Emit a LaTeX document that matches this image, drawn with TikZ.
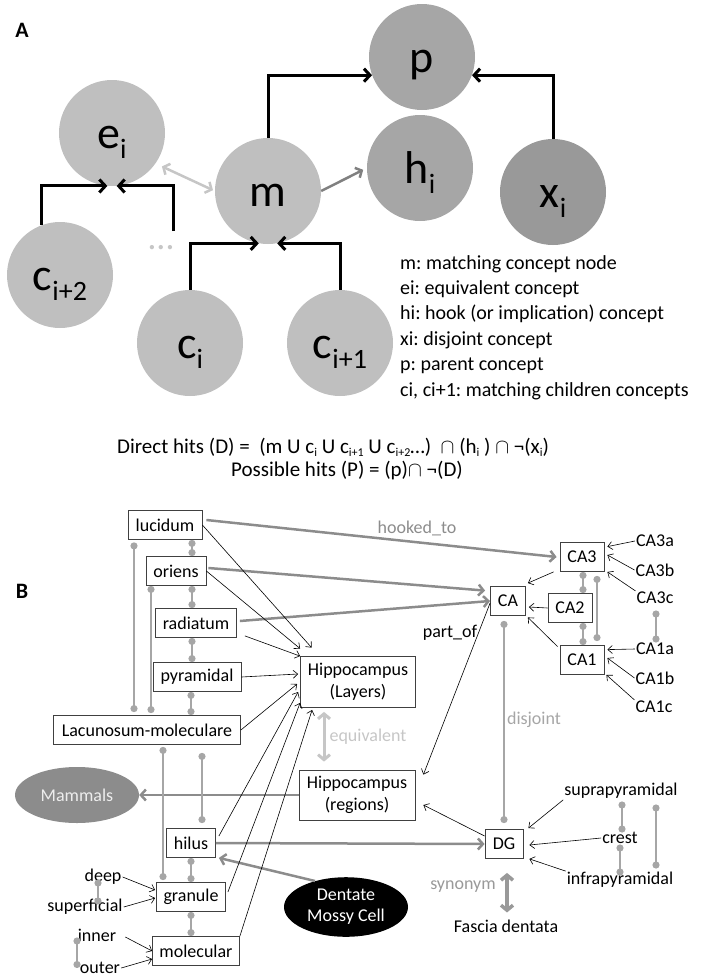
\documentclass[tikz,border=0pt]{standalone}
\usepackage{fontspec}
\setmainfont{Carlito}
\usetikzlibrary{shapes.geometric,arrows.meta}
\frenchspacing

\newcommand{\bigsub}[1]{\raisebox{-10pt}[0pt][0pt]{\fontsize{28}{28}\selectfont #1}}
\newcommand{\smallsub}[1]{\raisebox{-3pt}[0pt][0pt]{\fontsize{12}{12}\selectfont #1}}

\tikzset{
  concept/.style={circle, minimum size=106pt, inner sep=0pt, text height=30pt, text depth=0pt,
    font=\fontsize{46}{46}\selectfont},
  tree/.style={-{Straight Barb[length=6pt, width=13pt]}, line width=3pt},
  layer/.style={draw=black!75, line width=0.8pt, fill=white, minimum height=29pt, inner sep=0pt,
    align=center, font=\fontsize{18}{22}\selectfont},
  term/.style={inner sep=1pt, font=\fontsize{18}{22}\selectfont},
  relname/.style={inner sep=1pt, font=\fontsize{18}{22}\selectfont},
  isa/.style={-{Straight Barb[length=4.5pt, width=8pt]}, line width=0.6pt},
  hook/.style={-{Straight Barb[length=5pt, width=11pt]}, draw=gray!90, line width=2.5pt},
  link/.style={{Circle[length=7pt]}-{Circle[length=7pt]}, draw=gray!70, line width=2.2pt},
  both/.style={{Straight Barb[length=5pt, width=12pt]}-{Straight Barb[length=5pt, width=12pt]}},
}

\begin{document}
\begin{tikzpicture}[x=1pt, y=-1pt]
\useasboundingbox (0,0) rectangle (708,980);

% A: the concept graph
\node[font=\fontsize{22}{22}\selectfont\bfseries] (labA) at (22,30) {A};

\node[concept, fill=gray!70] (p) at (422,57) {p};
\node[concept, fill=gray!70] (h) at (420,168) {h\bigsub{i}};
\node[concept, fill=gray!80] (x) at (553,192) {x\bigsub{i}};
\node[concept, fill=gray!50] (m) at (268,191) {m};
\node[concept, fill=gray!50] (e) at (112,133) {e\bigsub{i}};
\node[concept, fill=gray!50] (c2) at (60,275) {c\bigsub{i+2}};
\node[concept, fill=gray!50] (c0) at (190,343) {c\bigsub{i}};
\node[concept, fill=gray!50] (c1) at (340,343) {c\bigsub{i+1}};
\node[text=gray!45, inner sep=0pt, anchor=base, font=\fontsize{36}{36}\selectfont] (dots) at (161,249) {…};
\coordinate (more) at (173,231);

\draw[tree] (m.north) |- (p.200);
\draw[tree] (x.north) |- (p.-20);
\draw[tree] (c2.110) |- (e.-95);
\draw[tree] (more) |- (e.-85);
\draw[tree] (c0.north) |- (m.-100);
\draw[tree] (c1.north) |- (m.-80);
\draw[both, draw=gray!45, line width=2.5pt, shorten <=7pt, shorten >=2pt] (e.-35) -- (m.west);
\draw[-{Straight Barb[length=5pt, width=11pt]}, draw=gray, line width=2.5pt, shorten >=4pt] (m.east) -- (h.west);

\node[anchor=base west, inner sep=0pt, align=left, font=\fontsize{20}{25.4}\selectfont] (legend) at (400,396)
  {m: matching concept node\\ei: equivalent concept\\hi: hook (or implication) concept\\xi: disjoint concept\\p: parent concept\\ci, ci+1: matching children concepts};

\node[anchor=base west, inner sep=0pt, font=\fontsize{21}{25}\selectfont] (direct) at (117,453)
  {Direct hits (D) =\ \ (m U c\smallsub{i} U c\smallsub{i+1} U c\smallsub{i+2}…)\ \ $\cap$ (h\smallsub{i} ) $\cap$ ¬(x\smallsub{i})};
\node[anchor=base west, inner sep=0pt, font=\fontsize{21}{25}\selectfont] (possible) at (231,476)
  {Possible hits (P) = (p)$\cap$ ¬(D)};

% B: the hippocampus example
\node[font=\fontsize{22}{22}\selectfont\bfseries] (labB) at (22,591) {B};

\node[layer, minimum width=74pt] (lucidum) at (165,525) {lucidum};
\node[layer, minimum width=60pt] (oriens) at (176,571) {oriens};
\node[layer, minimum width=81pt] (radiatum) at (196,623) {radiatum};
\node[layer, minimum width=88pt] (pyramidal) at (197,677) {pyramidal};
\node[layer, minimum width=187pt] (lacunosum) at (147,730) {Lacunosum-moleculare};
\node[layer, minimum width=49pt] (hilus) at (191,843) {hilus};
\node[layer, minimum width=69pt] (granule) at (191,897) {granule};
\node[layer, minimum width=87pt] (molecular) at (196,951) {molecular};
\node[layer, minimum width=115pt, minimum height=51pt] (hl) at (358,682) {Hippocampus\\(Layers)};
\node[layer, minimum width=116pt, minimum height=50pt] (hr) at (357,795) {Hippocampus\\(regions)};
\node[layer, minimum width=35pt] (ca) at (508,601) {CA};
\node[layer, minimum width=44pt] (ca3) at (582,557) {CA3};
\node[layer, minimum width=44pt] (ca2) at (570,608) {CA2};
\node[layer, minimum width=44pt] (ca1) at (582,660) {CA1};
\node[layer, minimum width=38pt] (dg) at (504,844) {DG};

\node[ellipse, fill=gray!90, text=white!93!black, minimum width=124pt, minimum height=56pt,
  font=\fontsize{18}{22}\selectfont] (mammals) at (77,795) {Mammals};
\node[ellipse, fill=black, text=white, minimum width=124pt, minimum height=56pt, align=center,
  font=\fontsize{18}{21}\selectfont] (mossy) at (346,907) {Dentate\\Mossy Cell};

\node[term] (ca3a) at (655,541) {CA3a};
\node[term] (ca3b) at (655,570) {CA3b};
\node[term] (ca3c) at (655,598) {CA3c};
\node[term] (ca1a) at (655,649) {CA1a};
\node[term] (ca1b) at (655,678) {CA1b};
\node[term] (ca1c) at (654,707) {CA1c};
\node[term] (supra) at (621,791) {suprapyramidal};
\node[term] (crest) at (620,838) {crest};
\node[term] (infra) at (620,880) {infrapyramidal};
\node[term] (fascia) at (506,926) {Fascia dentata};
\node[term] (deep) at (103,877) {deep};
\node[term] (superficial) at (85,907) {superficial};
\node[term] (inner) at (97,935) {inner};
\node[term] (outer) at (100,968) {outer};

\node[relname, text=gray!90] (hooked) at (417,528) {hooked\_to};
\node[relname] (partof) at (450,633) {part\_of};
\node[relname, text=gray!45] (equiv) at (368,737) {equivalent};
\node[relname, text=gray!70] (disj) at (534,720) {disjoint};
\node[relname, text=gray!80] (syn) at (463,887) {synonym};

% hooked_to
\draw[hook] ([shift={(4,-5)}]lucidum.east) -- ([shift={(-3,0)}]ca3.west);
\draw[hook] ([shift={(2,-3)}]oriens.east) -- ([shift={(-5,4.5)}]ca.north west);
\draw[hook] ([shift={(3,-2)}]radiatum.east) -- (ca.west);
\draw[hook] (hr.west) -- (mammals.east);
\draw[hook] (hilus.east) -- (dg.west);
\draw[hook] (mossy.140) -- ([shift={(3,0)}]hilus.south east);

% layers to Hippocampus (Layers)
\draw[isa] (lucidum.east) -- ([shift={(11.5,-8.5)}]hl.north west);
\draw[isa] (oriens.east) -- ([shift={(0,-7.5)}]hl.north west);
\draw[isa] ([shift={(8,-2)}]radiatum.south east) -- (hl.north west);
\draw[isa] (pyramidal.east) -- ([shift={(-2,-8)}]hl.west);
\draw[isa] (lacunosum.east) -- ([shift={(-3,2)}]hl.west);
\draw[isa] ([shift={(3,-7)}]hilus.east) -- ([shift={(-2,10)}]hl.west);
\draw[isa] ([shift={(2,-5)}]granule.east) -- ([shift={(0,-5)}]hl.south west);
\draw[isa] (molecular.north east) -- ([shift={(12,2)}]hl.south west);

\draw[isa] ([shift={(0,2)}]ca.west) -- ([shift={(8,5)}]hr.north east);
\draw[isa] ([shift={(0,-8)}]dg.west) -- ([shift={(8,10)}]hr.east);
\draw[isa] ([shift={(-6,0)}]ca3.south west) -- ([shift={(2,-3)}]ca.north east);
\draw[isa] (ca2.west) -- ([shift={(3,6)}]ca.east);
\draw[isa] ([shift={(-2,1.5)}]ca1.north west) -- ([shift={(2,1.5)}]ca.south east);

\draw[isa] (ca3a.west) -- ([shift={(3,4.5)}]ca3.north east);
\draw[isa] (ca3b.west) -- ([shift={(3,-2)}]ca3.east);
\draw[isa] (ca3c.north west) -- ([shift={(3,0)}]ca3.south east);
\draw[isa] (ca1a.west) -- ([shift={(3,4.5)}]ca1.north east);
\draw[isa] (ca1b.west) -- ([shift={(3,-2)}]ca1.east);
\draw[isa] (ca1c.north west) -- ([shift={(2,0)}]ca1.south east);

\draw[isa] (supra.south west) -- ([shift={(5,-1)}]dg.north east);
\draw[isa] (crest.west) -- ([shift={(6,1)}]dg.east);
\draw[isa] (infra.north west) -- ([shift={(6,0)}]dg.south east);

\draw[isa] (deep.east) -- ([shift={(-1,-7)}]granule.west);
\draw[isa] (superficial.east) -- ([shift={(-1,1)}]granule.west);
\draw[isa] ([shift={(8,2)}]inner.east) -- (molecular.west);
\draw[isa] (outer.east) -- ([shift={(0,8)}]molecular.west);

% disjoint pairs
\draw[link] (192,0 |- lucidum.south) -- (192,0 |- oriens.north);
\draw[link] (192,0 |- oriens.south) -- (192,0 |- radiatum.north);
\draw[link] (192,0 |- radiatum.south) -- (192,0 |- pyramidal.north);
\draw[link] (191,0 |- pyramidal.south) -- (191,0 |- lacunosum.north);
\draw[link, shorten <=2.5pt, shorten >=3pt] (134,0 |- lucidum.south) -- (134,0 |- lacunosum.north);
\draw[link, shorten >=2pt] (151,0 |- oriens.south) -- (151,0 |- lacunosum.north);
\draw[link, shorten <=2pt, shorten >=2pt] (163,0 |- lacunosum.south) -- (163,0 |- granule.north);
\draw[link, shorten <=8pt, shorten >=5pt] (202,0 |- lacunosum.south) -- (202,0 |- hilus.north);
\draw[link] (191,0 |- hilus.south) -- (191,0 |- granule.north);
\draw[link] (191,0 |- granule.south) -- (191,0 |- molecular.north);
\draw[link, shorten <=2.5pt, shorten >=2.5pt] (98,0 |- deep.center) -- (98,0 |- superficial.center);
\draw[link, shorten <=2.5pt] (77,0 |- inner.center) -- (77,0 |- outer.center);

\draw[link] (583,0 |- ca3.south) -- (583,0 |- ca2.north);
\draw[link] (583,0 |- ca2.south) -- (583,0 |- ca1.north);
\draw[link, shorten <=4pt, shorten >=4pt] (597,0 |- ca3.south) -- (597,0 |- ca1.north);
\draw[link, shorten <=12.5pt, shorten >=6.5pt] (656,0 |- ca3c.center) -- (656,0 |- ca1a.center);
\draw[link, shorten <=5pt, shorten >=6pt] (504,0 |- ca.south) -- (504,0 |- dg.north);
\draw[link, shorten <=10.5pt, shorten >=5.5pt] (622,0 |- supra.center) -- (622,0 |- crest.center);
\draw[link, shorten <=6.5pt, shorten >=4.5pt] (620,0 |- crest.center) -- (620,0 |- infra.center);
\draw[link, shorten <=13.5pt, shorten >=11.5pt] (656,0 |- supra.center) -- (656,0 |- infra.center);

% equivalent / synonym
\draw[both, draw=gray!45, line width=3pt, shorten <=4pt, shorten >=8pt] (324,0 |- hl.south) -- (324,0 |- hr.north);
\draw[both, draw=gray!80, line width=3.5pt, shorten <=14pt, shorten >=6pt] (507,0 |- dg.south) -- (507,0 |- fascia.north);

\end{tikzpicture}
\end{document}
